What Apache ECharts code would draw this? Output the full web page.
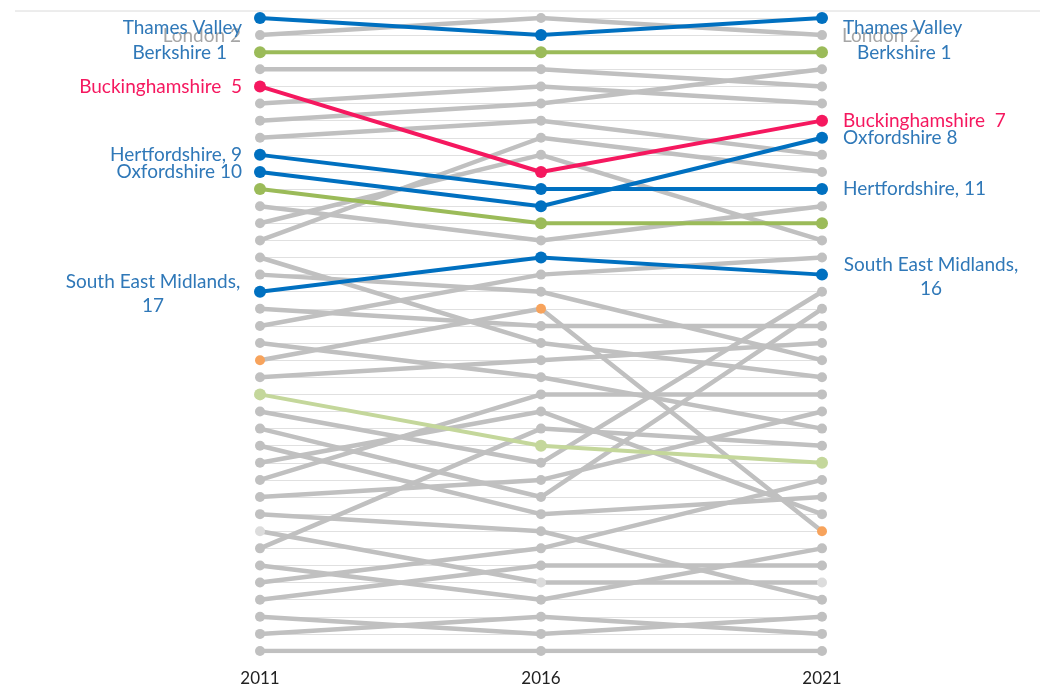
<!DOCTYPE html>
<html>
<head>
<meta charset="utf-8">
<script src="https://cdn.jsdelivr.net/npm/echarts@6/dist/echarts.min.js"></script>
<style>
  html, body { margin: 0; padding: 0; background: #fff; }
  #chart { width: 1047px; height: 689px; }
</style>
</head>
<body>
<div id="chart"></div>
<script>
// 年份
var years = ['2011', '2016', '2021'];
// 每条线在三个年份的名次位置 (0 = 最上)
var pos2011 = [0,1,2,3,4,5,6,7,8,9,10,11,12,13,14,15,16,17,18,19,20,21,22,23,24,25,26,27,28,29,30,31,32,33,34,35,36,37];
var pos2016 = [1,0,2,3,9,4,5,6,10,11,12,13,8,7,19,16,14,18,15,21,17,20,25,26,28,29,23,22,27,30,33,24,34,31,32,36,35,37];
var pos2021 = [0,1,2,4,6,5,3,8,10,7,12,11,13,9,21,20,15,18,14,24,30,19,26,16,17,28,29,22,23,34,33,25,31,27,32,35,36,37];

// 高亮的线: 线号 -> 名称
var highlightNames = {
    0: 'Thames Valley', 1: 'London', 2: 'Berkshire', 4: 'Buckinghamshire',
    8: 'Hertfordshire', 9: 'Oxfordshire', 10: 'Green A', 16: 'South East Midlands',
    20: 'Orange', 22: 'Green B', 30: 'Light'
};
// 左右两侧的标签文字
var leftLabels = {
    0: 'Thames Valley', 1: 'London 2', 2: 'Berkshire 1', 4: 'Buckinghamshire  5',
    8: 'Hertfordshire, 9', 9: 'Oxfordshire 10', 16: 'South East Midlands,\n17'
};
var rightLabels = {
    0: 'Thames Valley', 1: 'London 2', 2: 'Berkshire 1', 4: 'Buckinghamshire  7',
    9: 'Oxfordshire 8', 8: 'Hertfordshire, 11', 16: 'South East Midlands,\n16'
};

var GREY = '#c0c0c0';
var BLUE = '#0070c0';
var TEXT_BLUE = '#2f78b8';
var PINK = '#f5185f';

function lineColor(id) {
    if (id === 0 || id === 8 || id === 9 || id === 16) return BLUE;
    if (id === 4) return PINK;
    if (id === 2 || id === 10) return '#9bbb59';
    if (id === 22) return '#c4d79b';
    return GREY;
}
function dotColor(id) {
    if (id === 20) return '#f7a35c';
    if (id === 30) return '#dcdcdc';
    return lineColor(id);
}
function labelColor(id) {
    if (id === 4) return PINK;
    if (id === 1) return '#a6a6a6';
    return TEXT_BLUE;
}

var baseFont = { fontFamily: 'Lato', fontSize: 19 };

function makeLabel(id, side) {
    var text = side === 'left' ? leftLabels[id] : rightLabels[id];
    if (!text) return { show: false };
    var lab = {
        show: true,
        formatter: text,
        color: labelColor(id),
        fontFamily: baseFont.fontFamily,
        fontSize: baseFont.fontSize,
        lineHeight: 24
    };
    if (id === 16) {
        // 两行居中
        lab.align = 'center';
        lab.verticalAlign = 'top';
        lab.position = side === 'left' ? [-101, -16] : [115, -16];
        return lab;
    }
    lab.position = side === 'left' ? 'left' : 'right';
    lab.distance = side === 'left' ? 12 : 15;
    var dy = 0;
    if (id === 0) dy = 10;
    if (id === 1) dy = 1;
    if (id === 2) dy = 1;
    if (id === 2) lab.distance = side === 'left' ? 27 : 29;
    if (id === 1) lab.distance = side === 'left' ? 14 : 15;
    lab.offset = [0, dy];
    return lab;
}

var series = [];
var order = [];
for (var i = 0; i < pos2011.length; i++) {
    if (highlightNames[i] === undefined || lineColor(i) === GREY) order.push(i);
}
for (var i = 0; i < pos2011.length; i++) {
    if (highlightNames[i] !== undefined && lineColor(i) !== GREY) order.push(i);
}

for (var k = 0; k < order.length; k++) {
    var id = order[k];
    var isGrey = lineColor(id) === GREY;
    series.push({
        name: highlightNames[id] || ('Area ' + (id + 1)),
        type: 'line',
        symbol: 'circle',
        symbolSize: isGrey ? 10 : 12,
        z: isGrey ? 2 : 5,
        silent: true,
        lineStyle: { color: lineColor(id), width: isGrey ? 4.5 : 4 },
        itemStyle: { color: dotColor(id) },
        data: [
            { value: pos2011[id], label: makeLabel(id, 'left') },
            { value: pos2016[id] },
            { value: pos2021[id], label: makeLabel(id, 'right') }
        ]
    });
}

var myChart = echarts.init(document.getElementById('chart'));
var option = {
    backgroundColor: '#fff',
    animation: false,
    grid: { left: 260, right: 225, top: 18, bottom: 38 },
    xAxis: {
        type: 'category',
        data: years,
        boundaryGap: false,
        axisLine: { show: false },
        axisTick: { show: false },
        axisLabel: { color: '#222', fontFamily: 'Lato', fontSize: 17, margin: 19 }
    },
    yAxis: {
        type: 'value',
        inverse: true,
        min: 0,
        max: 37,
        interval: 1,
        axisLine: { show: false },
        axisTick: { show: false },
        axisLabel: { show: false },
        splitLine: { lineStyle: { color: '#e0e0e0', width: 1 } }
    },
    graphic: [{
        type: 'line',
        shape: { x1: 15, y1: 11, x2: 1040, y2: 11 },
        style: { stroke: '#dadada', lineWidth: 1 }
    }],
    series: series
};
myChart.setOption(option);
</script>
</body>
</html>
